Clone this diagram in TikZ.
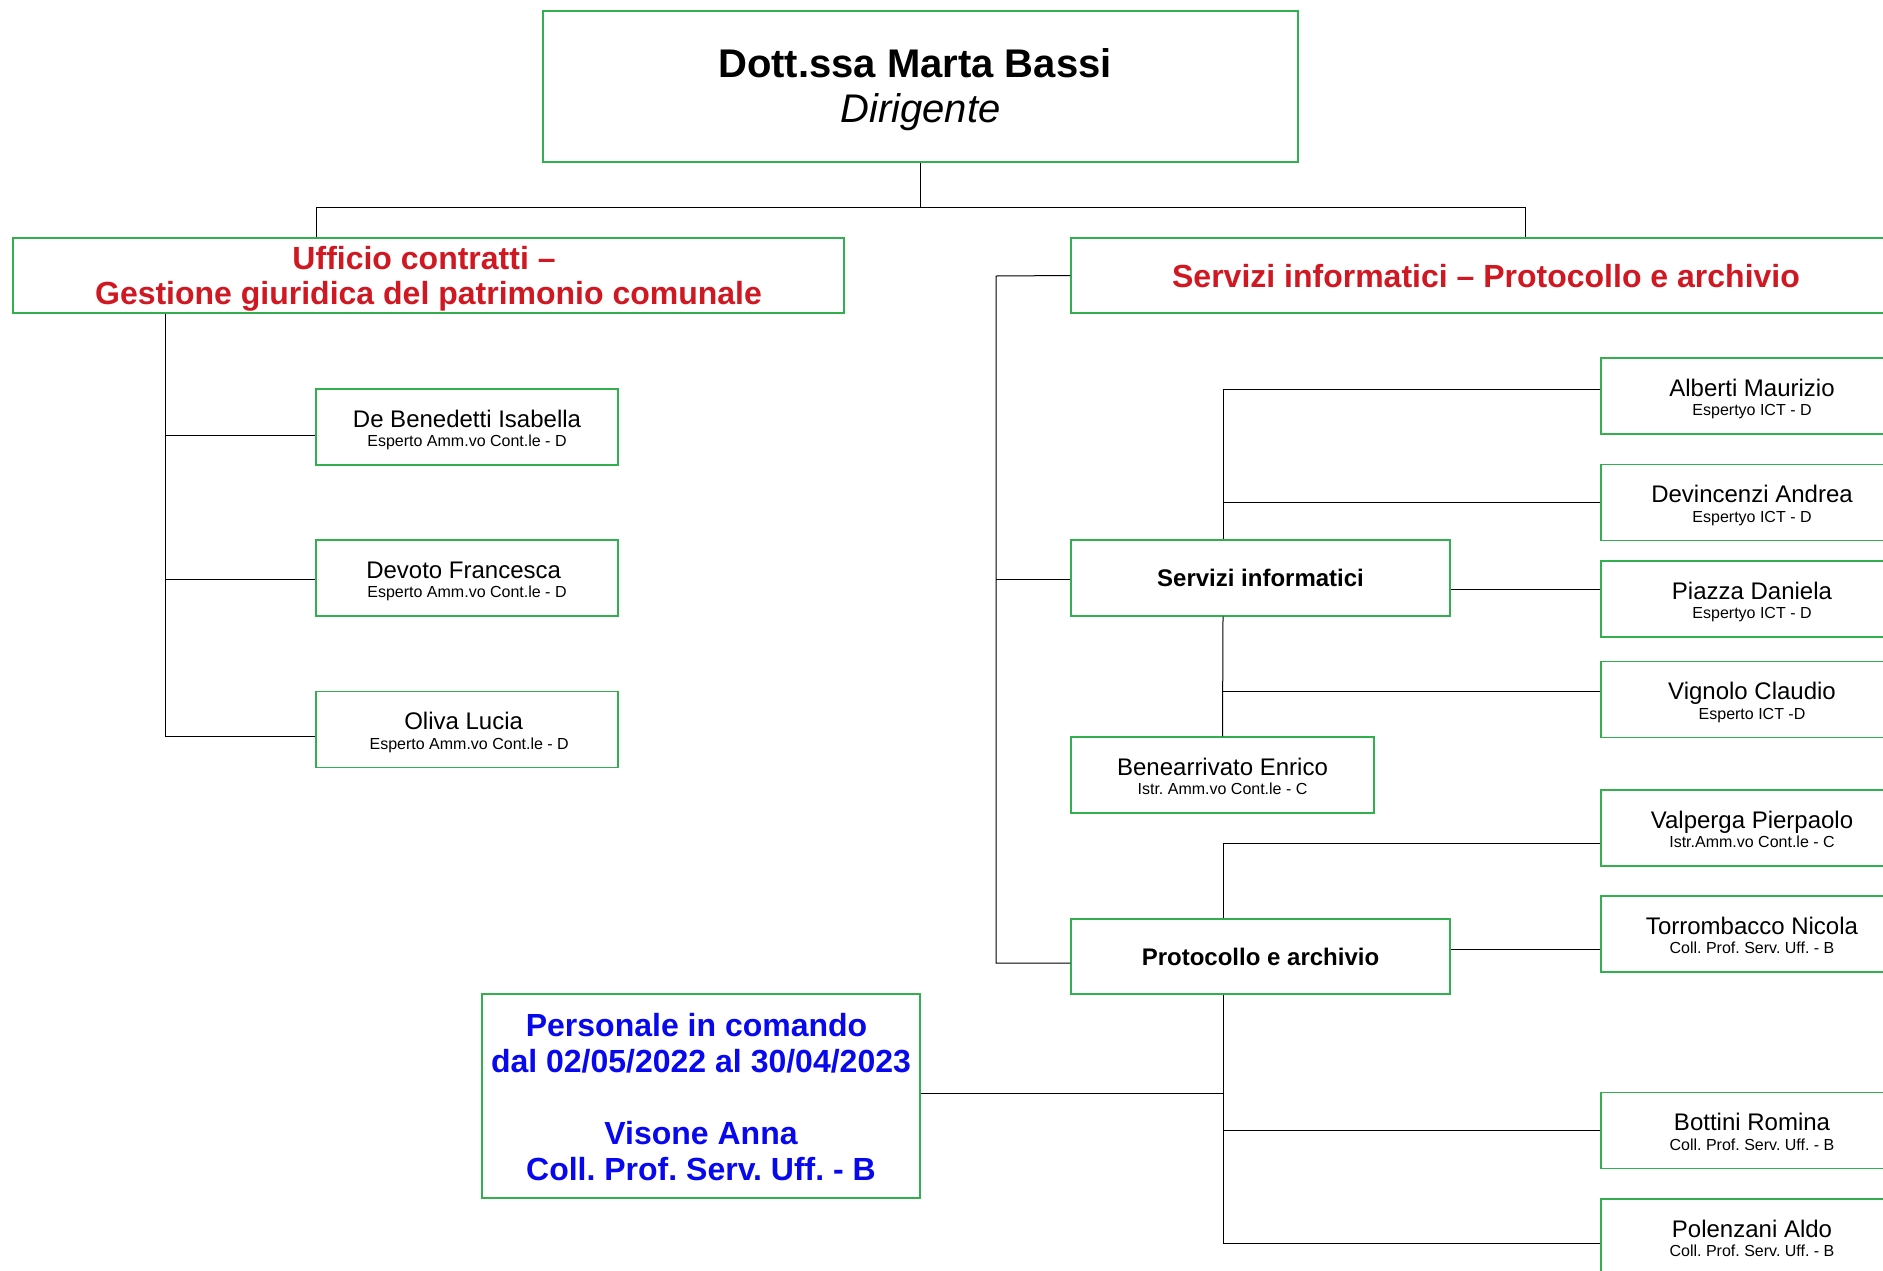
\documentclass[tikz,border=0pt]{standalone}
\usepackage{fontspec}
\setmainfont{Liberation Sans}
\definecolor{boxgreen}{RGB}{50,176,80}
\definecolor{titlered}{RGB}{208,24,34}
\definecolor{noteblue}{RGB}{8,8,238}
\newcommand{\tstrut}[1]{\rule{0pt}{#1}}
\newcommand{\bstrut}[1]{\rule[-#1]{0pt}{#1}}
\newcommand{\spc}{\rule{0.278em}{0pt}}
\newcommand{\pname}[2]{\tstrut{11.85pt}#1\\{\fontsize{8}{9.85}\selectfont #2\bstrut{2pt}}}
\tikzset{
  box/.style={draw=boxgreen, line width=0.7pt, fill=white, inner sep=0pt, align=center},
  pbox/.style={box, minimum width=151pt, minimum height=38pt, font=\frenchspacing\fontsize{12}{9.85}\selectfont},
  redtitle/.style={box, text=titlered, font=\frenchspacing\fontsize{16}{17.85}\selectfont\bfseries},
  unitbox/.style={box, minimum width=189.5pt, minimum height=38pt, font=\fontsize{12}{14}\selectfont\bfseries},
  conn/.style={draw=black, line width=0.5pt}
}
\begin{document}
\begin{tikzpicture}[x=0.5pt,y=-0.5pt]
\path[use as bounding box, clip] (0,0) rectangle (1883,1270);
\fill[white] (0,0) rectangle (1883,1270);

\coordinate (tjl) at (316,207);
\coordinate (tjr) at (1525,207);
\coordinate (lv) at (165,736);
\coordinate (rv) at (996,963);
\coordinate (sv) at (1223,389);

% nodes
\node[box, minimum width=377.5pt, minimum height=75.5pt, font=\fontsize{20}{22.3}\selectfont] (top) at (920.5,86.5)
  {\tstrut{18.5pt}\bfseries Dott.ssa Marta Bassi\spc\\\itshape Dirigente\bstrut{5pt}};
\node[redtitle, minimum width=415.5pt, minimum height=37.5pt] (uff) at (428.5,275.5)
  {\tstrut{15.4pt}Ufficio contratti --\spc\\Gestione giuridica del patrimonio comunale\bstrut{4pt}};
\node[redtitle, minimum width=415pt, minimum height=37.5pt] (sp) at (1486,275.5)
  {\tstrut{14.7pt}Servizi informatici -- Protocollo e archivio\bstrut{3pt}};

\node[pbox] (deb) at (467,427) {\pname{De Benedetti Isabella}{Esperto Amm.vo Cont.le - D}};
\node[pbox] (dev) at (467,578) {\pname{Devoto Francesca\spc}{Esperto Amm.vo Cont.le - D}};
\node[pbox] (oli) at (467,729.5) {\pname{Oliva Lucia\spc}{\spc Esperto Amm.vo Cont.le - D}};

\node[unitbox] (si) at (1260.5,578) {\tstrut{10.6pt}Servizi informatici\bstrut{2pt}};
\node[unitbox, minimum height=37.5pt] (prot) at (1260.5,956.5) {\tstrut{10.6pt}Protocollo e archivio\bstrut{2pt}};
\node[pbox, minimum width=151.5pt] (ben) at (1222.5,775) {\pname{Benearrivato Enrico}{Istr. Amm.vo Cont.le - C}};

\node[pbox] (alb) at (1752,396) {\pname{Alberti Maurizio}{Espertyo ICT - D}};
\node[pbox] (dvc) at (1752,502.5) {\pname{Devincenzi Andrea}{Espertyo ICT - D}};
\node[pbox] (pia) at (1752,599) {\pname{Piazza Daniela}{Espertyo ICT - D}};
\node[pbox] (vig) at (1752,699.5) {\pname{Vignolo Claudio}{Esperto ICT -D}};
\node[pbox] (val) at (1752,828) {\pname{Valperga Pierpaolo}{Istr.Amm.vo Cont.le - C}};
\node[pbox] (tor) at (1752,934) {\pname{Torrombacco Nicola}{Coll. Prof. Serv. Uff. - B}};
\node[pbox] (bot) at (1752,1130.5) {\pname{Bottini Romina}{Coll. Prof. Serv. Uff. - B}};
\node[pbox] (pol) at (1752,1237) {\pname{Polenzani Aldo}{Coll. Prof. Serv. Uff. - B}};

\node[box, minimum width=219pt, minimum height=102pt, text=noteblue, font=\frenchspacing\fontsize{16}{17.9}\selectfont\bfseries] (pers) at (701,1096)
  {\tstrut{14.4pt}Personale in comando\spc\\dal 02/05/2022 al 30/04/2023\\[17.9pt]Visone Anna\\Coll. Prof. Serv. Uff. - B\bstrut{2pt}};

% top level
\draw[conn] (top.south) -- (top.south |- tjl);
\draw[conn] (uff.north -| tjl) -- (tjl) -- (tjr) -- (sp.north -| tjr);

% left branch
\draw[conn] (uff.south -| lv) -- (lv) -- (oli.west |- lv);
\draw[conn] (165,435) -- (deb.west |- 165,435);
\draw[conn] (165,579) -- (dev.west |- 165,579);

% right branch
\draw[conn] (sp.west) -- (996,276) -- (rv) -- (prot.west |- rv);
\draw[conn] (996,579) -- (si.west |- 996,579);

% servizi informatici
\draw[conn] (alb.west |- sv) -- (sv) -- (si.north -| sv);
\draw[conn] (1223,502) -- (dvc.west |- 1223,502);
\draw[conn] (si.south -| sv) -- (ben.north);
\draw[conn] (1223,691) -- (vig.west |- 1223,691);
\draw[conn] (si.east |- 1450,589) -- (pia.west |- 1450,589);

% protocollo
\draw[conn] (val.west |- 1223,843) -- (1223,843) -- (prot.north -| sv);
\draw[conn] (prot.east |- 1450,949) -- (tor.west |- 1450,949);
\draw[conn] (prot.south -| sv) -- (1223,1243) -- (pol.west |- 1223,1243);
\draw[conn] (1223,1130) -- (bot.west |- 1223,1130);
\draw[conn] (pers.east |- 920,1093) -- (1223,1093);
\end{tikzpicture}
\end{document}
